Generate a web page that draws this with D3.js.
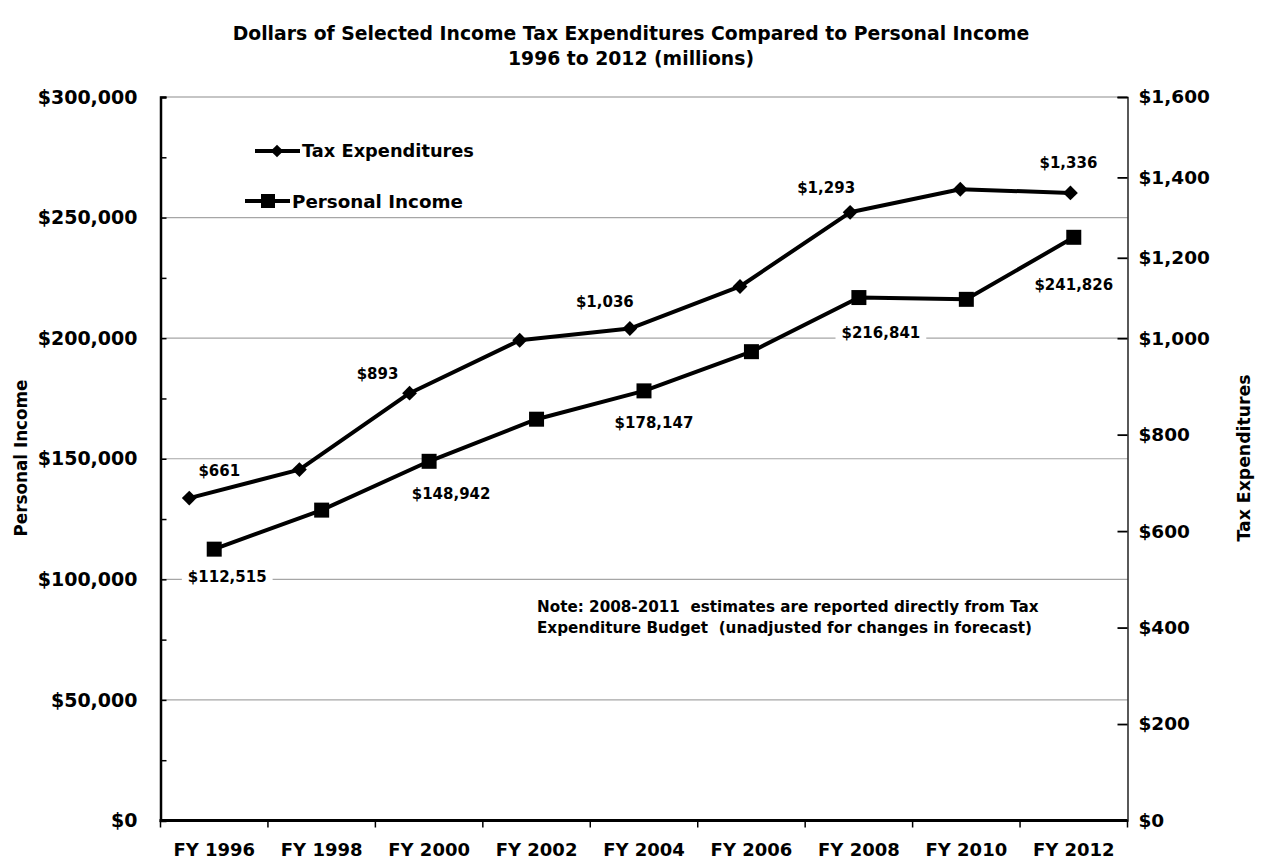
<!DOCTYPE html>
<html><head><meta charset="utf-8">
<script src="https://cdn.jsdelivr.net/npm/d3@7"></script>
<style>
body{margin:0;background:#fff}
text{font-family:"DejaVu Sans",sans-serif;font-weight:bold;fill:#000}
</style>
</head><body>
<svg id="c" width="1262" height="863"></svg>
<script>
// ---------- data ----------
const categories = ["FY 1996","FY 1998","FY 2000","FY 2002","FY 2004","FY 2006","FY 2008","FY 2010","FY 2012"];
const personalIncome = [112515, 128700, 148942, 166400, 178147, 194400, 216841, 216100, 241826];
const taxExpenditures = [661, 724, 893, 1010, 1036, 1129, 1293, 1344, 1336];
const labeledIndices = [0, 2, 4, 6, 8];
const leftTickValues = [0, 50000, 100000, 150000, 200000, 250000, 300000];
const rightTickValues = [0, 200, 400, 600, 800, 1000, 1200, 1400, 1600];
const titleLines = ["Dollars of Selected Income Tax Expenditures Compared to Personal Income", "1996 to 2012 (millions)"];
const noteLines = ["Note: 2008-2011  estimates are reported directly from Tax", "Expenditure Budget  (unadjusted for changes in forecast)"];

// ---------- layout ----------
const P = {left:160.5, right:1127.5, top:97, bottom:820.5};
const overlay = {dxLeft:-26.3, dxRight:-2, dy:-23.5}; // tax series overlay plot offset
const taxLabelOff = [[30,-28],[-32,-20],[-25,-27],[-24,-25],[-2,-30]];
const piLabelOff = [[13,27],[22,32],[10,32],[22,35],[0,47]];

const svg = d3.select("#c");
const fmt = d3.format(",");
const money = v => "$" + fmt(v);

const x = d3.scaleBand().domain(categories).range([P.left, P.right]);
const xTax = d3.scaleBand().domain(categories).range([P.left + overlay.dxLeft, P.right + overlay.dxRight]);
const yL = d3.scaleLinear().domain([0, 300000]).range([P.bottom, P.top]);
const yR = d3.scaleLinear().domain([0, 1000, 1600]).range([yL(0), yL(200000), yL(300000)]);
const yTax = d3.scaleLinear().domain([0, 1600]).range([P.bottom + overlay.dy, P.top + overlay.dy]);

// title
svg.append("g").selectAll("text").data(titleLines).join("text")
  .attr("x", 631).attr("y", (d,i)=> 40 + i*25)
  .attr("text-anchor","middle").style("font-size","18.8px").text(d=>d);

// gridlines
svg.append("g").selectAll("line").data(leftTickValues.filter(v=>v>0)).join("line")
  .attr("x1", P.left).attr("x2", P.right)
  .attr("y1", d=>yL(d)).attr("y2", d=>yL(d))
  .attr("stroke", d=> d===300000 ? "#8c8c8c" : "#a6a6a6").attr("stroke-width", 1.2);

// left axis (line + inner ticks)
const gL = svg.append("g").attr("transform", `translate(${P.left},0)`)
  .call(d3.axisRight(yL).tickValues(d3.range(0, 300001, 25000)).tickSize(6).tickFormat(""));
gL.select(".domain").attr("stroke","#000").attr("stroke-width",2.5);
gL.selectAll(".tick line").attr("stroke","#000").attr("stroke-width",1.5);
const gLl = svg.append("g").attr("transform", `translate(${P.left},0)`)
  .call(d3.axisLeft(yL).tickValues(leftTickValues).tickSize(0).tickPadding(23).tickFormat(money));
gLl.select(".domain").remove();
gLl.selectAll("text").style("font-size","19px").attr("font-family",null).attr("font-size",null);

// right axis
const gR = svg.append("g").attr("transform", `translate(${P.right},0)`)
  .call(d3.axisLeft(yR).tickValues(rightTickValues).tickSize(10).tickFormat(""));
gR.select(".domain").attr("stroke","#000").attr("stroke-width",1.3);
gR.selectAll(".tick line").attr("stroke","#000").attr("stroke-width",1.8);
const gRl = svg.append("g").attr("transform", `translate(${P.right},0)`)
  .call(d3.axisRight(yR).tickValues(rightTickValues).tickSize(0).tickPadding(11).tickFormat(money));
gRl.select(".domain").remove();
gRl.selectAll("text").style("font-size","18.5px").attr("font-family",null).attr("font-size",null);

// bottom axis
const gB = svg.append("g").attr("transform", `translate(0,${P.bottom})`)
  .call(d3.axisBottom(x).tickSize(0).tickPadding(23));
gB.select(".domain").remove();
gB.selectAll("text").style("font-size","18px").attr("font-family",null).attr("font-size",null);
const bounds = categories.map(c=>x(c)).concat([P.right]);
svg.append("g").selectAll("line").data(bounds).join("line")
  .attr("x1", d=>d).attr("x2", d=>d).attr("y1", P.bottom).attr("y2", P.bottom+7)
  .attr("stroke","#000").attr("stroke-width",1.5);
svg.append("line").attr("x1",P.left-1).attr("x2",P.right).attr("y1",P.bottom).attr("y2",P.bottom)
  .attr("stroke","#000").attr("stroke-width",3);

// axis titles
svg.append("text").attr("transform","translate(21,458) rotate(-90)").attr("text-anchor","middle")
  .attr("dy","0.35em").style("font-size","16.8px").text("Personal Income");
svg.append("text").attr("transform","translate(1244,458) rotate(-90)").attr("text-anchor","middle")
  .attr("dy","0.35em").style("font-size","17.3px").text("Tax Expenditures");

// lines
const cx = (i)=> x(categories[i]) + x.bandwidth()/2;
const cxT = (i)=> xTax(categories[i]) + xTax.bandwidth()/2;
svg.append("path").datum(personalIncome)
  .attr("d", d3.line().x((d,i)=>cx(i)).y(d=>yL(d)))
  .attr("fill","none").attr("stroke","#000").attr("stroke-width",4).attr("stroke-linejoin","round");
svg.append("path").datum(taxExpenditures)
  .attr("d", d3.line().x((d,i)=>cxT(i)).y(d=>yTax(d)))
  .attr("fill","none").attr("stroke","#000").attr("stroke-width",4).attr("stroke-linejoin","round");

// markers
const sq = d3.symbol(d3.symbolSquare, 225);
const dm = d3.symbol(d3.symbolSquare, 110);
svg.append("g").selectAll("path").data(personalIncome).join("path")
  .attr("d", sq).attr("transform",(d,i)=>`translate(${cx(i)},${yL(d)})`).attr("fill","#000");
svg.append("g").selectAll("path").data(taxExpenditures).join("path")
  .attr("d", dm).attr("transform",(d,i)=>`translate(${cxT(i)},${yTax(d)}) rotate(45)`).attr("fill","#000");

// data labels with white boxes
function label(xc, yc, txt){
  const g = svg.append("g");
  const r = g.append("rect").attr("fill","#fff");
  const t = g.append("text").attr("x",xc).attr("y",yc).attr("dy","0.36em")
    .attr("text-anchor","middle").style("font-size","15px").text(txt);
  const b = t.node().getBBox();
  r.attr("x", b.x-6).attr("y", b.y-1).attr("width", b.width+12).attr("height", b.height+2);
}
labeledIndices.forEach((idx,k)=>{
  label(cxT(idx)+taxLabelOff[k][0], yTax(taxExpenditures[idx])+taxLabelOff[k][1], money(taxExpenditures[idx]));
  label(cx(idx)+piLabelOff[k][0], yL(personalIncome[idx])+piLabelOff[k][1], money(personalIncome[idx]));
});

// legend
const lg = svg.append("g");
lg.append("line").attr("x1",255).attr("x2",300).attr("y1",151).attr("y2",151).attr("stroke","#000").attr("stroke-width",4);
lg.append("path").attr("d", d3.symbol(d3.symbolSquare, 80)).attr("transform","translate(277,151) rotate(45)");
lg.append("text").attr("x",302).attr("y",151).attr("dy","0.36em").style("font-size","17.8px").text("Tax Expenditures");
lg.append("line").attr("x1",245).attr("x2",290).attr("y1",201).attr("y2",201).attr("stroke","#000").attr("stroke-width",4);
lg.append("path").attr("d", d3.symbol(d3.symbolSquare, 196)).attr("transform","translate(268,201)");
lg.append("text").attr("x",292).attr("y",201).attr("dy","0.36em").style("font-size","18.3px").text("Personal Income");

// note
svg.append("g").selectAll("text").data(noteLines).join("text")
  .attr("x",537).attr("y",(d,i)=>612 + i*21).style("font-size","15.2px")
  .style("white-space","pre").text(d=>d);
</script>
</body></html>
